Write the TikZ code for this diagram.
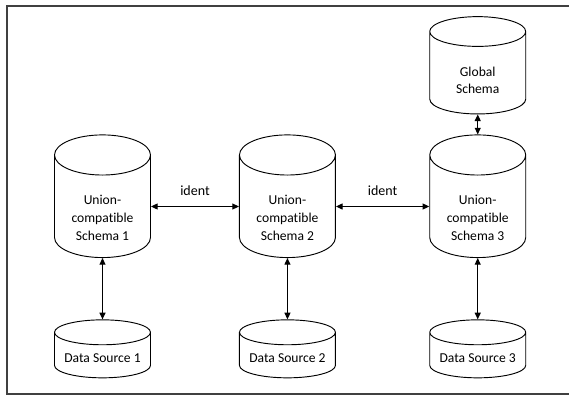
\documentclass[tikz,border=0pt]{standalone}
\usepackage{fontspec}
\setmainfont{Carlito}[Ligatures=NoCommon]
\usetikzlibrary{arrows.meta,positioning,shapes.geometric}

\begin{document}
\begin{tikzpicture}[x=0.75pt, y=-0.75pt,
  db/.style={cylinder, shape border rotate=90, draw=black, line width=0.7pt,
             minimum width=72pt, inner sep=0pt},
  % the text goes in the body, under the top cap
  txt/.style={align=center, inner sep=0pt, font=\fontsize{10.2}{13.2}\selectfont},
  schema/.style={db, text width=43pt, minimum height=92pt, aspect=0.7,
                 label={[txt, yshift=-8.6pt]center:#1}},
  global/.style={db, text width=36pt, minimum height=73pt, aspect=0.62,
                 label={[txt, yshift=-5.6pt]center:#1}},
  source/.style={db, text width=55pt, minimum height=43.5pt, aspect=0.34,
                 label={[txt, yshift=-2.3pt]center:#1}},
  arr/.style={{Triangle[length=5pt,width=4.5pt]}-{Triangle[length=5pt,width=4.5pt]},
              line width=0.8pt}
]
  \useasboundingbox (0,0) rectangle (569,397);
  % open frame, right side runs off the page
  \draw[line width=1.2pt, black!75] (572,6) -| (7,394) -- (572,394);

  \node[schema={Union-\\compatible\\Schema 1}] (s1) at (102.5,206.5) {};
  \node[schema={Union-\\compatible\\Schema 2}, right=66pt of s1] (s2) {};
  \node[schema={Union-\\compatible\\Schema 3}, right=70pt of s2] (s3) {};
  \node[global={Global\\Schema}, above=15pt of s3] (g) {};
  \node[source={Data Source 1}, below=46pt of s1] (d1) {};
  \node[source={Data Source 2}, below=46pt of s2] (d2) {};
  \node[source={Data Source 3}, below=46pt of s3] (d3) {};

  \draw[arr] (s1) -- node[above=4.5pt, font=\fontsize{10.5}{12}\selectfont]{ident} (s2);
  \draw[arr] (s2) -- node[above=4.5pt, font=\fontsize{10.5}{12}\selectfont]{ident} (s3);
  \draw[arr] (g) -- (s3);
  \draw[arr] (s1) -- (d1);
  \draw[arr] (s2) -- (d2);
  \draw[arr] (s3) -- (d3);
\end{tikzpicture}
\end{document}
